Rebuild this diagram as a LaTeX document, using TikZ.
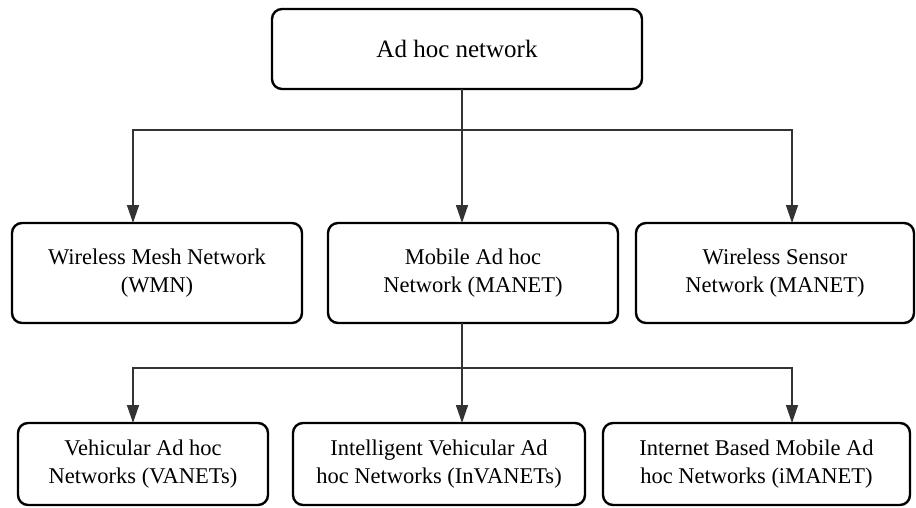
\documentclass[tikz,border=0pt]{standalone}
\usepackage{fontspec}
\setmainfont{Liberation Serif}
\usetikzlibrary{arrows.meta, positioning}

\begin{document}
\begin{tikzpicture}[
		x=1pt, y=-1pt,
		box/.style={draw, line width=2.4pt, rounded corners=10pt, inner sep=0pt, outer sep=0pt,
			font=\fontsize{22.5}{28}\selectfont},
		link/.style={draw=black!80, line width=1.5pt},
		arrow/.style={link, -{Triangle[length=18pt, width=12pt]}},
		every node/.style={align=center}
		]
		\useasboundingbox (0,0) rectangle (916,508);
		
		% Root
		\node[box, minimum width=370pt, minimum height=80pt, font=\fontsize{25}{30}\selectfont] (adhoc) at (457,49) {Ad hoc network};
		
		% Second level
		\node[box, minimum width=290pt, minimum height=100pt] (wmn) at (157,273) {Wireless Mesh Network\\ (WMN)};
		\node[box, minimum width=290pt, minimum height=100pt, right=26pt of wmn] (manet) {Mobile Ad hoc\\ Network (MANET)};
		\node[box, minimum width=278pt, minimum height=100pt, right=18pt of manet] (wsn) {Wireless Sensor\\ Network (MANET)};
		
		% Third level
		\node[box, minimum width=250pt, minimum height=82pt] (vanet) at (143,464) {Vehicular Ad hoc\\ Networks (VANETs)};
		\node[box, minimum width=292pt, minimum height=82pt, right=25pt of vanet] (invanet) {Intelligent Vehicular Ad\\ hoc Networks (InVANETs)};
		\node[box, minimum width=307pt, minimum height=82pt, right=18pt of invanet] (imanet) {Internet Based Mobile Ad\\ hoc Networks (iMANET)};
		
		% Bus points
		\coordinate (busA) at (462,130);
		\coordinate (busAl) at (133,130);
		\coordinate (busAr) at (792,130);
		\coordinate (busB) at (462,368);
		\coordinate (busBl) at (133,368);
		\coordinate (busBr) at (792,368);
		
		% Arrows
		\foreach \c/\n in {busAl/wmn, busA/manet, busAr/wsn}
		\draw[arrow] (adhoc.south -| busA) |- (\c) -- (\c |- \n.north);
		\foreach \c/\n in {busBl/vanet, busB/invanet, busBr/imanet}
		\draw[arrow] (manet.south -| busB) |- (\c) -- (\c |- \n.north);
		
	\end{tikzpicture}
\end{document}
